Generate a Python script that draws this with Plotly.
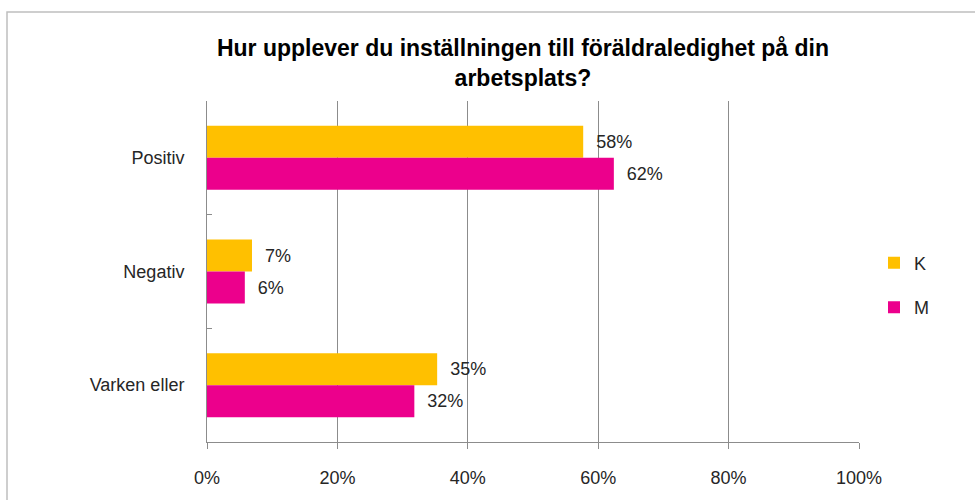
import plotly.graph_objects as go

categories = ["Positiv", "Negativ", "Varken eller"]
k_values = [57.7, 6.9, 35.3]
m_values = [62.4, 5.8, 31.8]
x_ticks = [0, 20, 40, 60, 80, 100]
x_tick_labels = ["0%", "20%", "40%", "60%", "80%", "100%"]

W, H = 975, 500
ML, MR, MT, MB = 207, 116, 101, 58
pw = W - ML - MR
ph = H - MT - MB

FONT = "Liberation Sans, Arial, sans-serif"
pad = "\u00a0\u00a0"

fig = go.Figure()
fig.add_trace(go.Bar(
    name="K", y=categories, x=k_values, orientation="h",
    marker=dict(color="#FFC000", line=dict(width=0)),
    texttemplate=pad + "%{x:.0f}%", textposition="outside",
    textfont=dict(family=FONT, size=18, color="#262626"),
    cliponaxis=False, legendgroup="K",
))
fig.add_trace(go.Bar(
    name="M", y=categories, x=m_values, orientation="h",
    marker=dict(color="#EC008C", line=dict(width=0)),
    texttemplate=pad + "%{x:.0f}%", textposition="outside",
    textfont=dict(family=FONT, size=18, color="#262626"),
    cliponaxis=False, legendgroup="M",
))

# outer chart border
fig.add_shape(
    type="rect", xref="paper", yref="paper",
    x0=(7 - ML) / pw, x1=(W + 10 - ML) / pw,
    y0=-(H + 10 - MT - ph) / ph, y1=1 + (MT - 12) / ph,
    line=dict(color="#BFBFBF", width=1.5), fillcolor="rgba(0,0,0,0)", layer="below",
)

fig.update_layout(
    width=W, height=H,
    margin=dict(l=ML, r=MR, t=MT, b=MB),
    paper_bgcolor="white", plot_bgcolor="white",
    barmode="group", bargap=0.437, bargroupgap=0,
    font=dict(family=FONT, size=18, color="#262626"),
    title=dict(
        text="<b>Hur upplever du inställningen till föräldraledighet på din<br>arbetsplats?</b>",
        x=523 / W, xref="container", xanchor="center",
        y=1 - 56 / H, yref="container", yanchor="top",
        font=dict(family=FONT, size=23, color="#000000"),
    ),
    xaxis=dict(
        range=[0, 100], tickvals=x_ticks, ticktext=x_tick_labels,
        showgrid=True, gridcolor="#8C8C8C", gridwidth=1,
        showline=True, linecolor="#8C8C8C", linewidth=1,
        ticks="outside", ticklen=6, tickcolor="#8C8C8C",
        ticklabelstandoff=13, zeroline=False,
        tickfont=dict(family=FONT, size=18, color="#262626"),
        fixedrange=True,
    ),
    yaxis=dict(
        categoryorder="array", categoryarray=categories,
        autorange="reversed",
        showline=True, linecolor="#8C8C8C", linewidth=1,
        ticks="inside", tickson="boundaries", ticklen=5, tickcolor="#8C8C8C",
        ticklabelstandoff=18, showgrid=False,
        tickfont=dict(family=FONT, size=18, color="#262626"),
        fixedrange=True,
    ),
    legend=dict(
        x=(874 - ML) / pw, xanchor="left", y=0.46, yanchor="middle",
        traceorder="grouped", tracegroupgap=18,
        font=dict(family=FONT, size=18, color="#262626"),
        itemwidth=30, bgcolor="rgba(0,0,0,0)",
    ),
    showlegend=True,
)

fig.write_html(
    "out.html",
    config={"displayModeBar": False},
    post_script="document.body.style.margin='0';",
)
